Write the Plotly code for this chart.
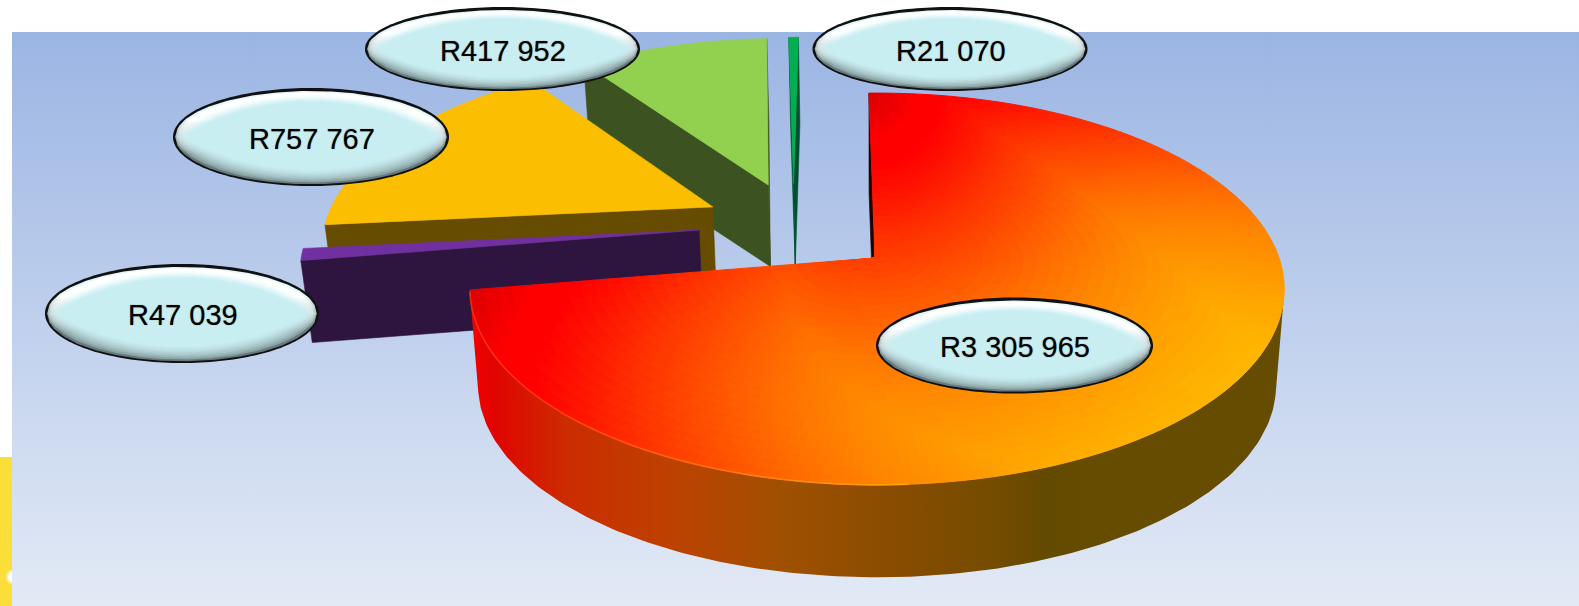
import numpy as np
import plotly.graph_objects as go

# ---- data ----
names = ["Red", "Purple", "Amber", "Green", "Teal"]
values = [3305965, 47039, 757767, 417952, 21070]

# ---- style ----
face_colors = [None, "#7030A0", "#FCBE00", "#92D050", "#00B050"]
wall_colors = ["#240000", "#2D1540", "#664C00", "#3C5220", "#00502F"]
wall_depth = [97, 82, 82, 80, 82]
pull_u = [0.0, -0.449, -0.422, -0.283, -0.216]
pull_v = [0.0, -0.15, -0.28, -0.407, -0.416]
draw_order = [3, 4, 2, 1, 0]
start_angle = -1.0

W, H = 1579, 606
CX, CY, RX, RY, K, L_TILT, S = 875.0, 258.0, 402.0, 191.0, 0.158, 0.005, 0.98


def proj(u, v):
    w = 1 - K * v - L_TILT * u
    return CX + RX * u / w, CY + RY * v / w


def floor_of(x, y, d):
    return CX + (x - CX) * S, CY + (y - CY) * S + d


def hex2rgb(h):
    return np.array([int(h[i:i + 2], 16) for i in (1, 3, 5)], float)


def ramp(stops, t):
    ts = [s[0] for s in stops]
    cols = np.array([hex2rgb(s[1]) for s in stops])
    c = [np.interp(t, ts, cols[:, i]) for i in range(3)]
    return "#%02x%02x%02x" % tuple(int(round(a)) for a in c)


# radial light on the large slice (pixels from its focus, y weighted double)
FOCUS = (1198.0, 403.0)
light_stops = [(0, "#FFC800"), (160, "#FFB000"), (240, "#FFA000"), (340, "#FF8800"),
               (410, "#FF7200"), (450, "#FF6200"), (520, "#FF4400"), (560, "#FF3200"),
               (620, "#FF1400"), (665, "#FF0000"), (700, "#FF0000"), (775, "#D40000")]


def light(x, y):
    return np.hypot(x - FOCUS[0], 2 * (y - FOCUS[1]))


wall_stops = [[0, "#F40000"], [0.03, "#E00400"], [0.118, "#CC2C00"], [0.249, "#BC4200"],
              [0.379, "#A05000"], [0.51, "#8A4C00"], [0.641, "#744C00"], [0.706, "#624A00"],
              [0.75, "#664C00"], [1, "#664C00"]]

fig = go.Figure()


def poly(xs, ys, color, width=0.6, **kw):
    fig.add_trace(go.Scatter(x=xs, y=ys, mode="lines", fill="toself", fillcolor=color,
                             line=dict(color=color, width=width, simplify=False),
                             hoverinfo="skip", showlegend=False, **kw))


# page panel and the strip at its left
poly([0, 12, 12, 0, 0], [457, 457, 606, 606, 457], "#FBDF38", width=0)
t = np.linspace(0, 2 * np.pi, 40)
poly(12 + 6 * np.cos(t), 577 + 7 * np.sin(t), "#FDEE94", width=0)
poly(12 + 4 * np.cos(t), 577 + 5 * np.sin(t), "#FFFFFF", width=0)
fig.add_trace(go.Scatter(x=[12, W, W, 12, 12], y=[32, 32, H, H, 32], mode="lines", fill="toself",
                         line=dict(width=0), hoverinfo="skip", showlegend=False,
                         fillgradient=dict(type="vertical", start=32, stop=H,
                                           colorscale=[[0, "#9BB5E3"], [1, "#E3EAF6"]])))

# slice spans, from the values
total = sum(values)
spans = []
a = start_angle
for v in values:
    b = a + 360.0 * v / total
    spans.append((a, b))
    a = b

for i in draw_order:
    a0, a1 = spans[i]
    n = max(2, int(np.ceil((a1 - a0) / 1.0)))
    th = np.radians(np.linspace(a0, a1, n + 1))
    us = pull_u[i] + np.sin(th)
    vs = pull_v[i] - np.cos(th)
    ax, ay = proj(pull_u[i], pull_v[i])
    ox, oy = proj(us, vs)
    px = np.concatenate([[ax], ox])
    py = np.concatenate([[ay], oy])
    d = wall_depth[i]
    fx, fy = floor_of(px, py, d)

    # visible walls
    m = len(px)
    visible = []
    for j in range(m):
        k = (j + 1) % m
        ex, ey = px[k] - px[j], py[k] - py[j]
        dx, dy = fx[j] - px[j], fy[j] - py[j]
        visible.append((ey * dx - ex * dy) > 0)

    # radial walls: edges 0 and m-1
    for j in (0, m - 1):
        if visible[j]:
            k = (j + 1) % m
            poly([px[j], px[k], fx[k], fx[j], px[j]], [py[j], py[k], fy[k], fy[j], py[j]], wall_colors[i])
    # outer wall
    run = [j for j in range(1, m - 1) if visible[j]]
    if run:
        idx = list(range(run[0], run[-1] + 2))
        wx = np.concatenate([px[idx], fx[idx][::-1], [px[idx[0]]]])
        wy = np.concatenate([py[idx], fy[idx][::-1], [py[idx[0]]]])
        if i == 0:
            fig.add_trace(go.Scatter(x=wx, y=wy, mode="lines", fill="toself", line=dict(width=0),
                                     hoverinfo="skip", showlegend=False,
                                     fillgradient=dict(type="horizontal", start=470, stop=1290,
                                                       colorscale=wall_stops)))
        else:
            poly(wx, wy, wall_colors[i])

    # top face
    if i != 0:
        poly(np.append(px, px[0]), np.append(py, py[0]), face_colors[i])
    else:
        rings = np.linspace(0, 1, 31)
        angs = np.radians(np.linspace(a0, a1, int((a1 - a0) / 1.25) + 1))
        corner = (ox[0], oy[0])
        bins = {}
        for r0, r1 in zip(rings[:-1], rings[1:]):
            for t0, t1 in zip(angs[:-1], angs[1:]):
                qu = np.array([r0 * np.sin(t0), r1 * np.sin(t0), r1 * np.sin(t1), r0 * np.sin(t1)])
                qv = np.array([-r0 * np.cos(t0), -r1 * np.cos(t0), -r1 * np.cos(t1), -r0 * np.cos(t1)])
                qx, qy = proj(qu, qv)
                L = light(qx.mean(), qy.mean())
                # the far corner is shaded as the near one is
                L = max(L, 765 - 1.4 * np.hypot(qx.mean() - corner[0], qy.mean() - corner[1]))
                key = int(L // 5)
                bins.setdefault(key, []).append((qx, qy))
        for key in sorted(bins):
            xs, ys = [], []
            for qx, qy in bins[key]:
                xs += list(np.round(qx, 1)) + [float(round(qx[0], 1)), None]
                ys += list(np.round(qy, 1)) + [float(round(qy[0], 1)), None]
            poly(xs, ys, ramp(light_stops, key * 5 + 2.5), width=1)
        # bright rim along the front edge
        rim = np.radians(np.linspace(176, a1 - 0.5, 40))
        rx, ry = proj(np.sin(rim), -np.cos(rim))
        for j in range(len(rim) - 1):
            c = hex2rgb(ramp(light_stops, light(rx[j], ry[j])))
            c = c + (np.array([255, 255, 255]) - c) * np.array([0.0, 0.2, 0.06])
            fig.add_trace(go.Scatter(x=rx[j:j + 2], y=ry[j:j + 2], mode="lines", hoverinfo="skip",
                                     showlegend=False,
                                     line=dict(color="rgb(%d,%d,%d)" % tuple(c), width=1.6)))

# ---- callouts ----
label_pos = {0: (1014.5, 345.5, 138.5, 48), 1: (182, 313.5, 137, 49.5), 2: (311, 137, 138, 49),
             3: (502.5, 49, 137.5, 42), 4: (950, 49, 137.5, 42)}
bevel_top = ["#E4F7F9", "#FFFFFF", "#FFFFFF", "#FAFEFE", "#F0FBFC", "#E4F8FA", "#D8F4F6", "#CEF0F4", "#C8EEF2"]
bevel_bot = ["#66797C", "#8AA3A6", "#9BB6B9", "#A8C5C8", "#B1D0D3", "#B9DBDE", "#BFE3E6", "#C4E9ED", "#C8EEF2"]
lx = np.linspace(-1, 1, 121)
for i in [3, 4, 2, 1, 0]:
    cx, cy, ea, eb = label_pos[i]
    tt = np.linspace(0, 2 * np.pi, 181)
    poly(cx + ea * np.cos(tt), cy + eb * np.sin(tt), "#111111", width=0)
    for s, (ct, cb) in enumerate(zip(bevel_top, bevel_bot)):
        f = s / (len(bevel_top) - 1)
        aa = (ea - 2.2) + f * (-10.8)
        ht = (eb - 3.0) + f * (0.72 * eb - (eb - 3.0))
        hb = (eb - 1.8) + f * (0.68 * eb - (eb - 1.8))
        p = 0.5 + f * 0.35
        yt = -ht * (1 - lx ** 2) ** p
        yb = hb * (1 - lx ** 2) ** p
        fig.add_trace(go.Scatter(x=cx + aa * np.concatenate([lx, lx[::-1]]),
                                 y=cy + np.concatenate([yt, yb[::-1]]),
                                 mode="lines", fill="toself", line=dict(width=0),
                                 hoverinfo="skip", showlegend=False,
                                 fillgradient=dict(type="vertical", start=cy - 0.35 * eb, stop=cy + 0.35 * eb,
                                                   colorscale=[[0, ct], [1, cb]])))
    fig.add_annotation(x=cx + 0.5, y=cy + 1.5, text=f"R{values[i]:,}".replace(",", " "), showarrow=False,
                       xanchor="center", yanchor="middle",
                       font=dict(family="Liberation Sans", size=29, color="#000000",
                                 shadow="0 0 1px rgba(0,0,0,0.55)"))

fig.update_layout(width=W, height=H, margin=dict(l=0, r=0, t=0, b=0), paper_bgcolor="#FFFFFF",
                  plot_bgcolor="#FFFFFF", showlegend=False, hovermode=False,
                  xaxis=dict(range=[0, W], visible=False, fixedrange=True),
                  yaxis=dict(range=[H, 0], visible=False, fixedrange=True))
fig.write_html("out.html", config={"displayModeBar": False},
               post_script="document.body.style.margin='0';document.body.style.overflow='hidden';")
